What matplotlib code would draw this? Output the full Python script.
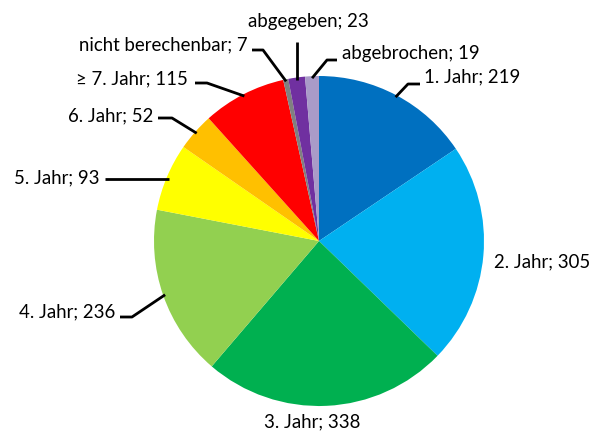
import numpy as np
import matplotlib.pyplot as plt

labels = ["1. Jahr", "2. Jahr", "3. Jahr", "4. Jahr", "5. Jahr", "6. Jahr",
          "\u2265 7. Jahr", "nicht berechenbar", "abgegeben", "abgebrochen"]
values = [219, 305, 338, 236, 93, 52, 115, 7, 23, 19]
colors = ["#0070C0", "#00B0F0", "#00B050", "#92D050", "#FFFF00", "#FFC000",
          "#FF0000", "#808080", "#7030A0", "#A99BC8"]

# label placement in pixel space (y from top): text x, text y, alignment,
# elbow point of leader line (None = no leader)
label_pos = [
    (424, 77, "left", (420, 84), (408, 84)),
    (494, 262, "left", None, None),
    (312, 422, "center", None, None),
    (115, 312, "right", (120, 317), (132, 317)),
    (100, 178, "right", (105, 179), None),
    (153, 116, "right", (158, 118), (172, 118)),
    (188, 79, "right", (195, 83), (207, 83)),
    (248, 45, "right", (252, 50), (263, 50)),
    (308, 22, "center", (297, 42), None),
    (342, 53, "left", (337, 60), (327, 60)),
]

W, H = 593, 432
cx, cy, R = 319, 241, 165

plt.rcParams['font.family'] = ['Lato', 'DejaVu Sans']
fig = plt.figure(figsize=(W / 100, H / 100), dpi=100)
ax = fig.add_axes([0, 0, 1, 1])

ax.pie(values, colors=colors, startangle=90, counterclock=False,
       center=(cx, H - cy), radius=R, wedgeprops=dict(linewidth=0),
       frame=True)
ax.set_xlim(0, W)
ax.set_ylim(0, H)
ax.set_aspect("equal")
ax.axis("off")

total = float(sum(values))
cum = np.cumsum(values) - np.array(values) / 2.0
for i, (lab, val) in enumerate(zip(labels, values)):
    tx, ty, ha, p1, p2 = label_pos[i]
    ax.text(tx, H - ty, "%s; %d" % (lab, val), ha=ha, va="center",
            fontsize=13.4, color="black")
    if p1 is None:
        continue
    ang = np.deg2rad(90 - 360 * cum[i] / total)
    ex = cx + (R - 2) * np.cos(ang)
    ey = cy - (R - 2) * np.sin(ang)
    pts = [p1] + ([p2] if p2 is not None else []) + [(ex, ey)]
    if lab == "5. Jahr":
        pts = [p1, (ex, p1[1])]
    if lab == "abgegeben":
        pts = [p1, (p1[0], ey)]
    xs = [p[0] for p in pts]
    ys = [H - p[1] for p in pts]
    ax.plot(xs, ys, color="black", linewidth=2, solid_capstyle="butt")

fig.savefig("out.png", dpi=100)
